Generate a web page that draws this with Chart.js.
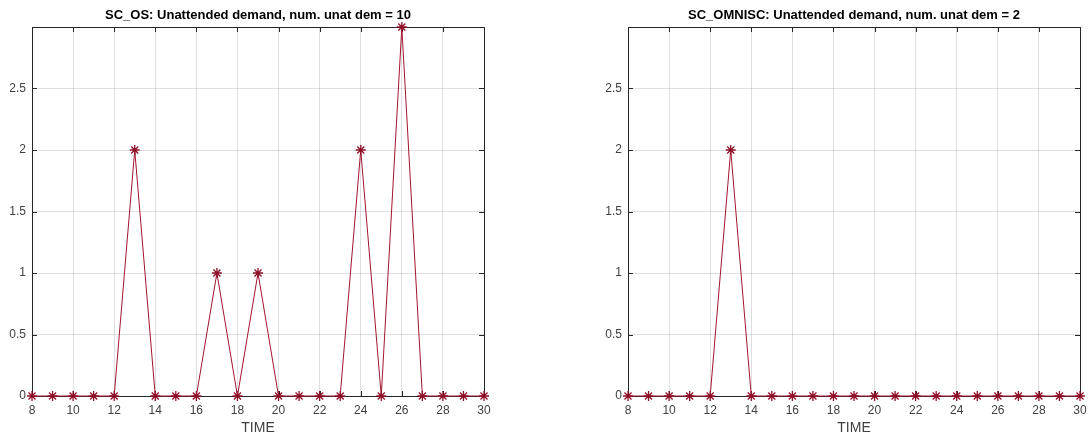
<!DOCTYPE html>
<html>
<head>
<meta charset="utf-8">
<script src="https://cdn.jsdelivr.net/npm/chart.js@4/dist/chart.umd.min.js"></script>
<style>
  body { margin: 0; background: #fff; }
  .box { position: absolute; top: 0; width: 545px; height: 437px; }
  #leftBox { left: 0; }
  #rightBox { left: 545px; }
</style>
</head>
<body>
<div class="box" id="leftBox"><canvas id="osChart"></canvas></div>
<div class="box" id="rightBox"><canvas id="omniscChart"></canvas></div>
<script>
const timeSteps = [8, 9, 10, 11, 12, 13, 14, 15, 16, 17, 18, 19, 20, 21, 22, 23, 24, 25, 26, 27, 28, 29, 30];
const osValues = [0, 0, 0, 0, 0, 2, 0, 0, 0, 1, 0, 1, 0, 0, 0, 0, 2, 0, 3, 0, 0, 0, 0];
const omniscValues = [0, 0, 0, 0, 0, 2, 0, 0, 0, 0, 0, 0, 0, 0, 0, 0, 0, 0, 0, 0, 0, 0, 0];
const titles = [
    'SC_OS: Unattended demand, num. unat dem = 10',
    'SC_OMNISC: Unattended demand, num. unat dem = 2'
];
const xLabel = 'TIME';

const lineColor = '#A2142F';
const axisColor = '#262626';
const labelColor = '#404040';
const fontFamily = '"Liberation Sans", Arial, Helvetica, sans-serif';

// matlab-like box with inward ticks and a title centred on the plot area
const matlabBox = {
    id: 'matlabBox',
    beforeDatasetsDraw(chart, args, opts) {
        const ctx = chart.ctx;
        const a = chart.chartArea;
        const xs = chart.scales.x, ys = chart.scales.y;
        ctx.save();
        ctx.strokeStyle = axisColor;
        ctx.lineWidth = 1;
        ctx.beginPath();
        xs.ticks.forEach(t => {
            const px = Math.round(xs.getPixelForValue(t.value)) + 0.5;
            ctx.moveTo(px, a.top); ctx.lineTo(px, a.top + 5);
            ctx.moveTo(px, a.bottom); ctx.lineTo(px, a.bottom - 5);
        });
        ys.ticks.forEach(t => {
            const py = Math.round(ys.getPixelForValue(t.value)) + 0.5;
            ctx.moveTo(a.left, py); ctx.lineTo(a.left + 5, py);
            ctx.moveTo(a.right, py); ctx.lineTo(a.right - 5, py);
        });
        ctx.stroke();
        ctx.strokeRect(Math.round(a.left) + 0.5, Math.round(a.top) + 0.5,
            Math.round(a.right - a.left), Math.round(a.bottom - a.top));
        ctx.fillStyle = '#000';
        ctx.font = 'bold 13px ' + fontFamily;
        ctx.textAlign = 'center';
        ctx.textBaseline = 'middle';
        ctx.fillText(opts.text, (a.left + a.right) / 2, 15);
        ctx.restore();
    }
};

function makeChart(canvasId, values, title, padLeft, padRight) {
    const ctx = document.getElementById(canvasId).getContext('2d');
    return new Chart(ctx, {
        type: 'line',
        data: {
            datasets: [{
                data: timeSteps.map((t, i) => ({ x: t, y: values[i] })),
                borderColor: lineColor,
                backgroundColor: lineColor,
                borderWidth: 1,
                pointStyle: 'star',
                pointRadius: 5,
                pointBorderWidth: 1.3,
                pointBorderColor: '#8E0F28',
                tension: 0,
                clip: false
            }]
        },
        options: {
            responsive: true,
            maintainAspectRatio: false,
            animation: false,
            layout: {
                padding: { left: padLeft, right: padRight, top: 27, bottom: 0 }
            },
            plugins: {
                legend: { display: false },
                tooltip: { enabled: false },
                title: { display: false },
                matlabBox: { text: title }
            },
            scales: {
                x: {
                    type: 'linear',
                    min: 8,
                    max: 30,
                    afterFit(scale) {
                        scale.height = 41;
                        scale.paddingLeft = 0;
                        scale.paddingRight = 0;
                    },
                    ticks: {
                        stepSize: 2,
                        padding: 7,
                        maxRotation: 0,
                        color: labelColor,
                        font: { family: fontFamily, size: 12 }
                    },
                    grid: {
                        color: 'rgba(38, 38, 38, 0.15)',
                        drawTicks: false
                    },
                    border: { display: false },
                    title: {
                        display: true,
                        text: xLabel,
                        color: labelColor,
                        padding: { top: 0, bottom: 0 },
                        font: { family: fontFamily, size: 14 }
                    }
                },
                y: {
                    min: 0,
                    max: 3,
                    afterFit(scale) {
                        scale.width = 32;
                        scale.paddingTop = 0;
                        scale.paddingBottom = 0;
                    },
                    ticks: {
                        stepSize: 0.5,
                        padding: 6,
                        color: labelColor,
                        font: { family: fontFamily, size: 12 },
                        callback: v => (v === 3 ? '' : v)
                    },
                    grid: {
                        color: 'rgba(38, 38, 38, 0.15)',
                        drawTicks: false
                    },
                    border: { display: false }
                }
            }
        },
        plugins: [matlabBox]
    });
}

makeChart('osChart', osValues, titles[0], 0, 61);
makeChart('omniscChart', omniscValues, titles[1], 51, 10);
</script>
</body>
</html>
